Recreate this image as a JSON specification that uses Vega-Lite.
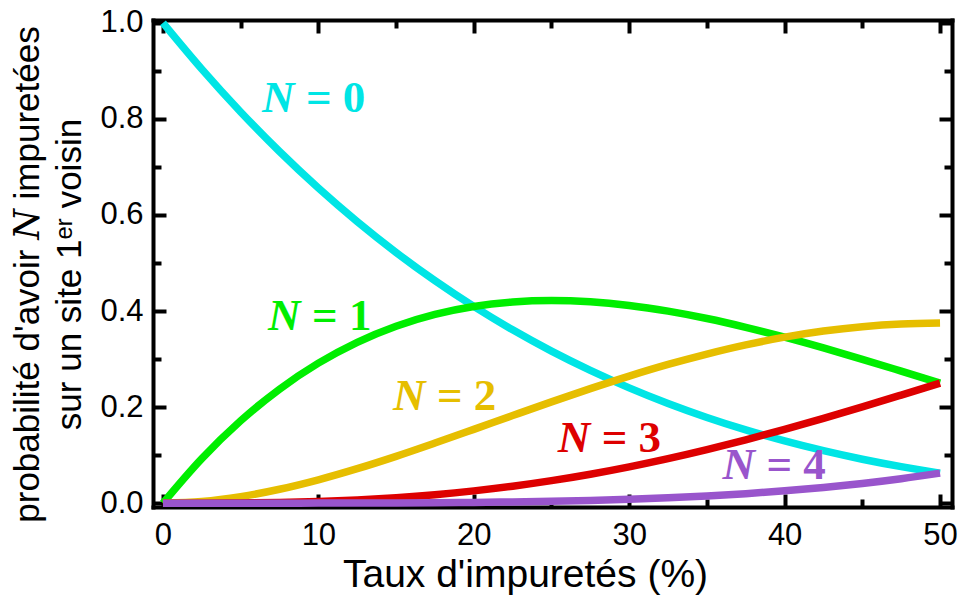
{
  "$schema": "https://vega.github.io/schema/vega-lite/v6.json",
  "width": 799,
  "height": 487,
  "autosize": {"type": "none"},
  "padding": {"left": 153, "top": 20, "right": 8, "bottom": 88},
  "background": "white",
  "config": {
    "view": {"stroke": null},
    "axis": {
      "grid": false,
      "domainColor": "black",
      "domainWidth": 4,
      "domainCap": "square",
      "tickColor": "black",
      "tickWidth": 4,
      "labelFont": "Liberation Sans",
      "labelFontSize": 31,
      "labelColor": "black",
      "labelFlush": false,
      "labelOverlap": false,
      "titleFont": "Liberation Sans",
      "titleFontWeight": "normal",
      "titleColor": "black"
    }
  },
  "datasets": {
    "curves": [
      {"x": 0, "N0": 1, "N1": 0, "N2": 0, "N3": 0, "N4": 0},
      {"x": 2.5, "N0": 0.9037, "N1": 0.0927, "N2": 0.00356, "N3": 0.00006, "N4": 0},
      {"x": 5, "N0": 0.8145, "N1": 0.1715, "N2": 0.0135, "N3": 0.00048, "N4": 0.00001},
      {"x": 7.5, "N0": 0.7321, "N1": 0.2374, "N2": 0.0289, "N3": 0.00156, "N4": 0.00003},
      {"x": 10, "N0": 0.6561, "N1": 0.2916, "N2": 0.0486, "N3": 0.0036, "N4": 0.0001},
      {"x": 12.5, "N0": 0.5862, "N1": 0.335, "N2": 0.0718, "N3": 0.0068, "N4": 0.0002},
      {"x": 15, "N0": 0.522, "N1": 0.3685, "N2": 0.0975, "N3": 0.0115, "N4": 0.0005},
      {"x": 17.5, "N0": 0.4633, "N1": 0.3931, "N2": 0.1251, "N3": 0.0177, "N4": 0.0009},
      {"x": 20, "N0": 0.4096, "N1": 0.4096, "N2": 0.1536, "N3": 0.0256, "N4": 0.0016},
      {"x": 22.5, "N0": 0.3608, "N1": 0.4189, "N2": 0.1824, "N3": 0.0353, "N4": 0.0026},
      {"x": 25, "N0": 0.3164, "N1": 0.4219, "N2": 0.2109, "N3": 0.0469, "N4": 0.0039},
      {"x": 27.5, "N0": 0.2763, "N1": 0.4192, "N2": 0.2385, "N3": 0.0603, "N4": 0.0057},
      {"x": 30, "N0": 0.2401, "N1": 0.4116, "N2": 0.2646, "N3": 0.0756, "N4": 0.0081},
      {"x": 32.5, "N0": 0.2076, "N1": 0.3998, "N2": 0.2888, "N3": 0.0927, "N4": 0.0112},
      {"x": 35, "N0": 0.1785, "N1": 0.3845, "N2": 0.3105, "N3": 0.1115, "N4": 0.015},
      {"x": 37.5, "N0": 0.1526, "N1": 0.3662, "N2": 0.3296, "N3": 0.1318, "N4": 0.0198},
      {"x": 40, "N0": 0.1296, "N1": 0.3456, "N2": 0.3456, "N3": 0.1536, "N4": 0.0256},
      {"x": 42.5, "N0": 0.1093, "N1": 0.3232, "N2": 0.3583, "N3": 0.1766, "N4": 0.0326},
      {"x": 45, "N0": 0.0915, "N1": 0.2995, "N2": 0.3675, "N3": 0.2005, "N4": 0.041},
      {"x": 47.5, "N0": 0.076, "N1": 0.2749, "N2": 0.3731, "N3": 0.2251, "N4": 0.0509},
      {"x": 50, "N0": 0.0625, "N1": 0.25, "N2": 0.375, "N3": 0.25, "N4": 0.0625}
    ],
    "labels": [
      {"k": "N0", "x": 6.37, "y": 0.815, "eq": "= 0"},
      {"k": "N1", "x": 6.76, "y": 0.36, "eq": "= 1"},
      {"k": "N2", "x": 14.8, "y": 0.194, "eq": "= 2"},
      {"k": "N3", "x": 25.4, "y": 0.106, "eq": "= 3"},
      {"k": "N4", "x": 36.0, "y": 0.05, "eq": "= 4"}
    ]
  },
  "resolve": {"axis": {"x": "independent", "y": "independent"}},
  "layer": [
    {
      "data": {"name": "curves"},
      "transform": [{"fold": ["N0", "N1", "N2", "N3", "N4"], "as": ["k", "value"]}],
      "mark": {"type": "line", "strokeWidth": 7.5, "interpolate": "monotone"},
      "encoding": {
        "x": {
          "field": "x", "type": "quantitative",
          "scale": {"domain": [-0.64, 50.77], "nice": false, "zero": false},
          "axis": {
            "orient": "bottom",
            "values": [0, 10, 20, 30, 40, 50],
            "tickSize": -13,
            "labelPadding": 26,
            "title": "Taux d'impuretés (%)",
            "titleFontSize": 39,
            "titleAlign": "center",
            "titleBaseline": "alphabetic",
            "titleX": 372,
            "titleY": 79
          }
        },
        "y": {
          "field": "value", "type": "quantitative",
          "scale": {"domain": [-0.008, 1.006], "nice": false, "zero": false},
          "axis": {
            "orient": "left",
            "values": [0, 0.2, 0.4, 0.6, 0.8, 1],
            "format": ".1f",
            "tickSize": -13,
            "labelPadding": 23,
            "title": ["probabilité d'avoir 𝑁 impuretées", "sur un site 1ᵉʳ voisin"],
            "titleFont": "Liberation Sans, DejaVu Serif",
            "titleFontSize": 35,
            "titleAngle": 270,
            "titleAlign": "center",
            "titleBaseline": "alphabetic",
            "titleLineHeight": 42,
            "titleX": -115,
            "titleY": 254
          }
        },
        "color": {
          "field": "k", "type": "nominal", "legend": null,
          "scale": {"domain": ["N0", "N1", "N2", "N3", "N4"], "range": ["#00E5E5", "#00EE00", "#E6BE00", "#DD0000", "#9955CC"]}
        },
        "order": {"field": "x", "type": "quantitative"}
      }
    },
    {
      "data": {"name": "labels"},
      "mark": {"type": "point", "opacity": 0},
      "encoding": {
        "x": {"field": "x", "type": "quantitative", "scale": {"domain": [-0.64, 50.77], "nice": false, "zero": false},
          "axis": {"orient": "bottom", "values": [5, 15, 25, 35, 45], "tickSize": -8, "domain": false, "labels": false, "title": null}},
        "y": {"field": "y", "type": "quantitative", "scale": {"domain": [-0.008, 1.006], "nice": false, "zero": false},
          "axis": {"orient": "left", "values": [0.1, 0.3, 0.5, 0.7, 0.9], "tickSize": -8, "domain": false, "labels": false, "title": null}}
      }
    },
    {
      "data": {"name": "labels"},
      "mark": {"type": "point", "opacity": 0},
      "encoding": {
        "x": {"field": "x", "type": "quantitative", "scale": {"domain": [-0.64, 50.77], "nice": false, "zero": false},
          "axis": {"orient": "top", "values": [0, 10, 20, 30, 40, 50], "tickSize": -13, "labels": false, "title": null}},
        "y": {"field": "y", "type": "quantitative", "scale": {"domain": [-0.008, 1.006], "nice": false, "zero": false},
          "axis": {"orient": "right", "values": [0, 0.2, 0.4, 0.6, 0.8, 1], "tickSize": -13, "labels": false, "title": null}}
      }
    },
    {
      "data": {"name": "labels"},
      "mark": {"type": "point", "opacity": 0},
      "encoding": {
        "x": {"field": "x", "type": "quantitative", "scale": {"domain": [-0.64, 50.77], "nice": false, "zero": false},
          "axis": {"orient": "top", "values": [5, 15, 25, 35, 45], "tickSize": -8, "domain": false, "labels": false, "title": null}},
        "y": {"field": "y", "type": "quantitative", "scale": {"domain": [-0.008, 1.006], "nice": false, "zero": false},
          "axis": {"orient": "right", "values": [0.1, 0.3, 0.5, 0.7, 0.9], "tickSize": -8, "domain": false, "labels": false, "title": null}}
      }
    },
    {
      "data": {"name": "labels"},
      "mark": {"type": "text", "font": "Liberation Serif", "fontSize": 45, "fontWeight": "bold", "fontStyle": "italic", "align": "left", "baseline": "alphabetic"},
      "encoding": {
        "x": {"field": "x", "type": "quantitative", "scale": {"domain": [-0.64, 50.77], "nice": false, "zero": false}, "axis": null},
        "y": {"field": "y", "type": "quantitative", "scale": {"domain": [-0.008, 1.006], "nice": false, "zero": false}, "axis": null},
        "text": {"value": "N"},
        "color": {"field": "k", "type": "nominal", "legend": null}
      }
    },
    {
      "data": {"name": "labels"},
      "mark": {"type": "text", "font": "Liberation Serif", "fontSize": 45, "fontWeight": "bold", "align": "left", "baseline": "alphabetic", "dx": 44},
      "encoding": {
        "x": {"field": "x", "type": "quantitative", "scale": {"domain": [-0.64, 50.77], "nice": false, "zero": false}, "axis": null},
        "y": {"field": "y", "type": "quantitative", "scale": {"domain": [-0.008, 1.006], "nice": false, "zero": false}, "axis": null},
        "text": {"field": "eq"},
        "color": {"field": "k", "type": "nominal", "legend": null}
      }
    }
  ]
}
